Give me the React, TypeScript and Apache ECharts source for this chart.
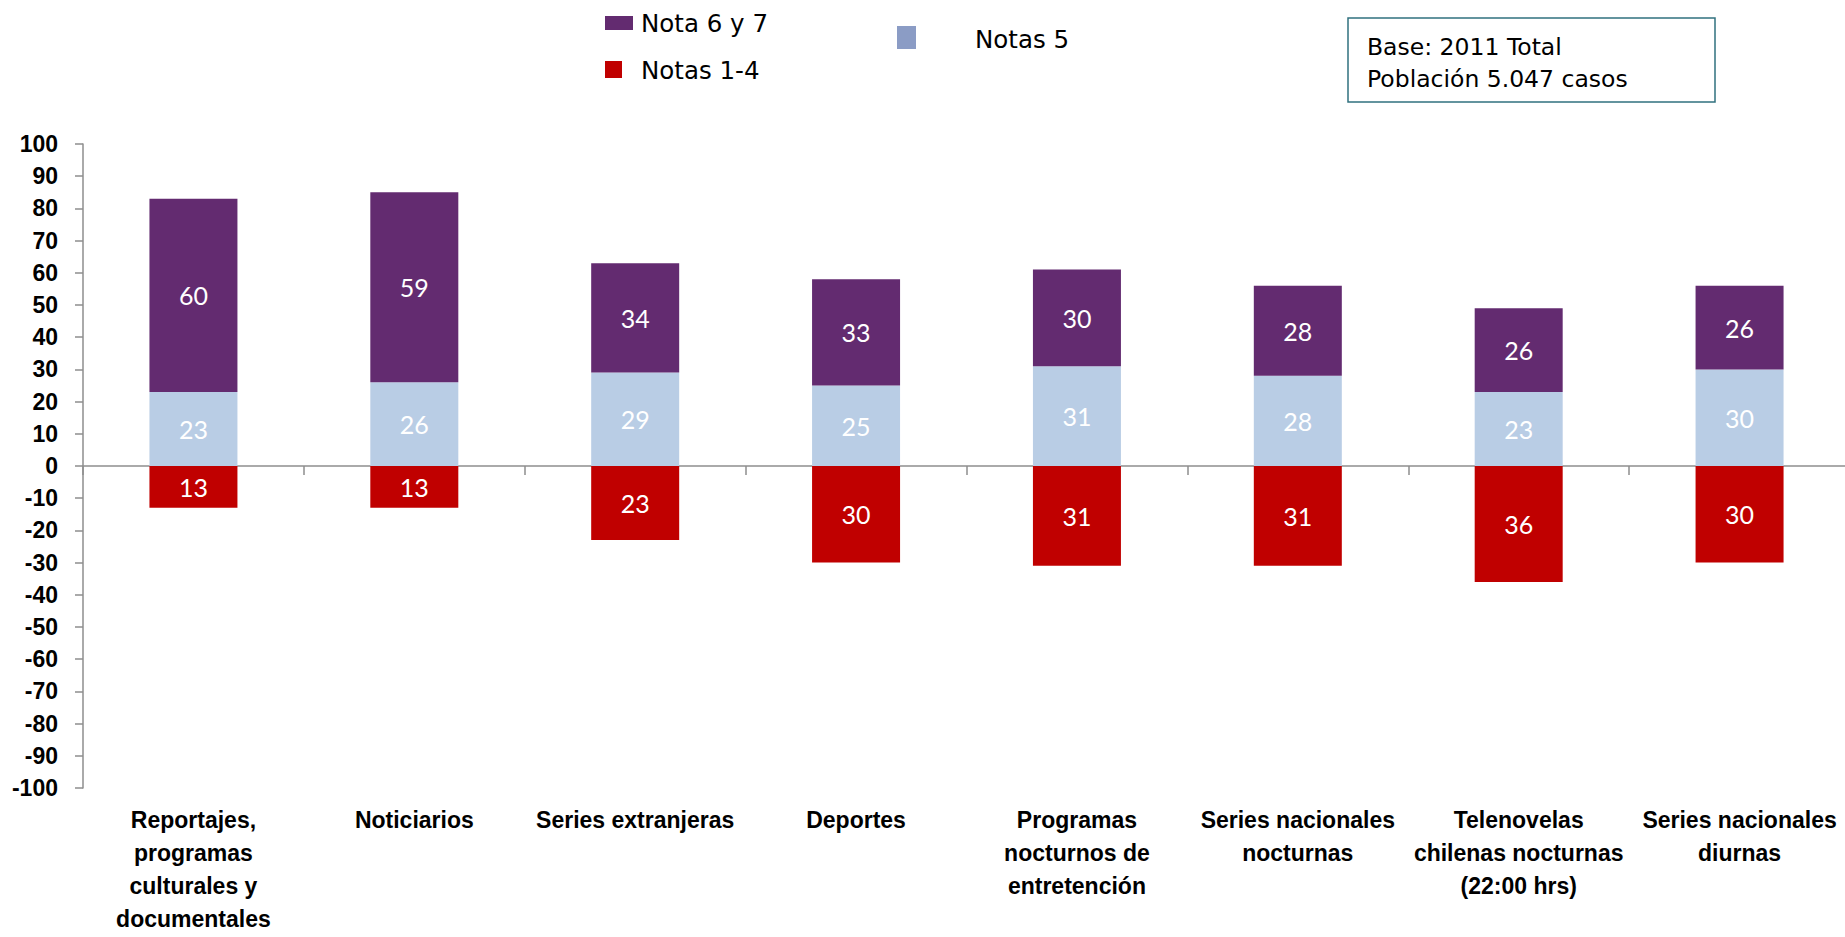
import React, { useEffect, useRef } from "react";
import * as echarts from "echarts";

const categories = [
  "Reportajes,\nprogramas\nculturales y\ndocumentales",
  "Noticiarios",
  "Series extranjeras",
  "Deportes",
  "Programas\nnocturnos de\nentretención",
  "Series nacionales\nnocturnas",
  "Telenovelas\nchilenas nocturnas\n(22:00 hrs)",
  "Series nacionales\ndiurnas",
];
const nota67 = [60, 59, 34, 33, 30, 28, 26, 26];
const notas5 = [23, 26, 29, 25, 31, 28, 23, 30];
const notas14 = [-13, -13, -23, -30, -31, -31, -36, -30];

const legendNames = ["Nota 6 y 7", "Notas 1-4", "Notas 5"];
const boxLines = ["Base: 2011 Total", "Población 5.047 casos"];

const PURPLE = "#632B70";
const LIGHTBLUE = "#B9CDE5";
const RED = "#C00000";
const LEGEND5 = "#8B9CC5";
const AXIS = "#8E8E8E";

export default function App() {
  const ref = useRef<HTMLDivElement>(null);
  useEffect(() => {
    if (!ref.current) return;
    const chart = echarts.init(ref.current, null, { renderer: "svg" });
    const barLabel = {
      show: true,
      position: "inside",
      color: "#FFFFFF",
      fontFamily: "Lato",
      fontSize: 25,
      formatter: (p: any) => String(Math.abs(p.value)),
    };
    const legendFont = "DejaVu Sans";
    chart.setOption({
      animation: false,
      backgroundColor: "#FFFFFF",
      grid: {
        left: 83,
        top: 144,
        width: 1767,
        height: 644,
        containLabel: false,
        outerBoundsMode: "none",
      },
      xAxis: [
        {
          type: "category",
          data: categories,
          position: "bottom",
          axisLine: { show: false, onZero: false },
          axisTick: { show: false },
          axisLabel: {
            interval: 0,
            margin: 15,
            color: "#000000",
            fontFamily: "Liberation Sans",
            fontWeight: "bold",
            fontSize: 23,
            lineHeight: 33,
          },
        },
        {
          type: "category",
          data: categories,
          position: "bottom",
          axisLine: { show: true, onZero: true, lineStyle: { color: AXIS, width: 1.5 } },
          axisTick: { show: true, length: 9, inside: false, lineStyle: { color: AXIS, width: 1.5 } },
          axisLabel: { show: false },
        },
      ],
      yAxis: {
        type: "value",
        min: -100,
        max: 100,
        interval: 10,
        splitLine: { show: false },
        axisLine: { show: true, lineStyle: { color: AXIS, width: 1.5 } },
        axisTick: { show: true, length: 8, lineStyle: { color: AXIS, width: 1.5 } },
        axisLabel: {
          margin: 25,
          color: "#000000",
          fontFamily: "Liberation Sans",
          fontWeight: "bold",
          fontSize: 23,
        },
      },
      series: [
        {
          name: "Notas 5",
          type: "bar",
          stack: "total",
          barWidth: 88,
          data: notas5,
          itemStyle: { color: LIGHTBLUE },
          label: barLabel,
        },
        {
          name: "Nota 6 y 7",
          type: "bar",
          stack: "total",
          barWidth: 88,
          data: nota67,
          itemStyle: { color: PURPLE },
          label: barLabel,
        },
        {
          name: "Notas 1-4",
          type: "bar",
          stack: "total",
          barWidth: 88,
          data: notas14,
          itemStyle: { color: RED },
          label: barLabel,
        },
      ],
      graphic: [
        { type: "rect", shape: { x: 605, y: 16, width: 28, height: 14 }, style: { fill: PURPLE } },
        {
          type: "text",
          x: 641,
          y: 23,
          style: { text: legendNames[0], fill: "#000", font: `24.5px "${legendFont}"`, verticalAlign: "middle" },
        },
        { type: "rect", shape: { x: 605, y: 61, width: 17, height: 17 }, style: { fill: RED } },
        {
          type: "text",
          x: 641,
          y: 70,
          style: { text: legendNames[1], fill: "#000", font: `24.5px "${legendFont}"`, verticalAlign: "middle" },
        },
        { type: "rect", shape: { x: 897, y: 26, width: 19, height: 23 }, style: { fill: LEGEND5 } },
        {
          type: "text",
          x: 975,
          y: 39,
          style: { text: legendNames[2], fill: "#000", font: `24.5px "${legendFont}"`, verticalAlign: "middle" },
        },
        {
          type: "rect",
          shape: { x: 1348, y: 18, width: 367, height: 84 },
          style: { fill: "#FFFFFF", stroke: "#31717F", lineWidth: 1.5 },
        },
        {
          type: "text",
          x: 1367,
          y: 47,
          style: { text: boxLines[0], fill: "#000", font: `23.5px "${legendFont}"`, verticalAlign: "middle" },
        },
        {
          type: "text",
          x: 1367,
          y: 79,
          style: { text: boxLines[1], fill: "#000", font: `23.5px "${legendFont}"`, verticalAlign: "middle" },
        },
      ],
    });
    return () => chart.dispose();
  }, []);
  return (
    <div
      ref={ref}
      style={{ position: "fixed", left: 0, top: 0, width: 1845, height: 937, background: "#fff" }}
    />
  );
}
